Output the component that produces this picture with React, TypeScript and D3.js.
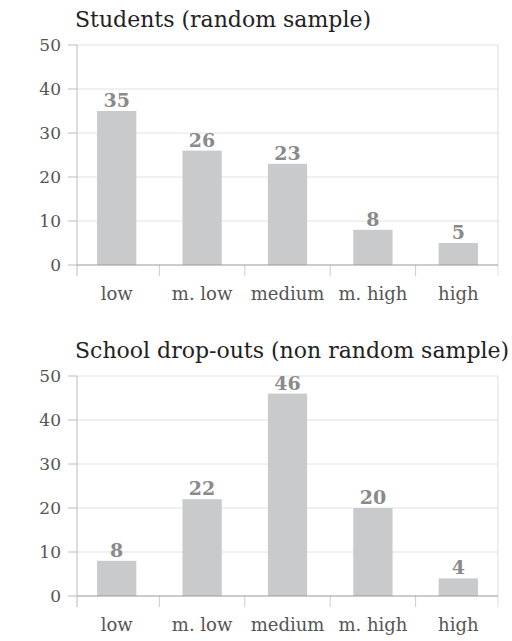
import React from 'react';
import * as d3 from 'd3';

const categories = ['low', 'm. low', 'medium', 'm. high', 'high'];
const studentsValues = [35, 26, 23, 8, 5];
const dropoutValues = [8, 22, 46, 20, 4];
const yTicks = [0, 10, 20, 30, 40, 50];

const W = 512;
const H = 641;
const FONT = '"DejaVu Serif", serif';
const M = { left: 77, right: 498, top: 45, bottom: 265 };
const PANEL_GAP = 331;

interface PanelProps {
  title: string;
  values: number[];
  offsetY: number;
}

const Panel: React.FC<PanelProps> = ({ title, values, offsetY }) => {
  const x = d3.scaleBand<string>().domain(categories).range([M.left - 3, M.right + 3]).paddingInner(0.54).paddingOuter(0.27);
  const y = d3.scaleLinear().domain([0, 50]).range([M.bottom, M.top]);
  const step = x.step();
  const bounds = categories.map(c => (x(c) ?? 0) - (step * x.paddingInner()) / 2);
  return (
    <g transform={`translate(0,${offsetY})`}>
      <text x={75} y={27} fontFamily={FONT} fontSize={22} fill="#222">{title}</text>
      {yTicks.map(t => (
        <g key={t}>
          {t > 0 && <line x1={M.left} x2={M.right} y1={y(t)} y2={y(t)} stroke="#e2e2e2" strokeWidth={1} />}
          <line x1={M.left - 9} x2={M.left} y1={y(t)} y2={y(t)} stroke="#bbb" strokeWidth={1} />
          <text x={61} y={y(t)} dy="0.36em" textAnchor="end" fontFamily={FONT} fontSize={17} fill="#555" fontWeight={300}>{t}</text>
        </g>
      ))}
      <line x1={M.left} x2={M.left} y1={M.top} y2={M.bottom + 11} stroke="#bbb" />
      <line x1={M.right} x2={M.right} y1={M.top} y2={M.bottom + 11} stroke="#ddd" />
      {bounds.slice(1).map((b, i) => (
        <line key={i} x1={b} x2={b} y1={M.bottom} y2={M.bottom + 11} stroke="#ccc" />
      ))}
      {categories.map((c, i) => (
        <g key={c}>
          <rect x={x(c)} y={y(values[i])} width={x.bandwidth()} height={y(0) - y(values[i])} fill="#c9cacc" />
          <text x={(x(c) ?? 0) + x.bandwidth() / 2} y={y(values[i]) - 4} textAnchor="middle" fontFamily={FONT} fontSize={19} fontWeight="bold" fill="#8a8a8a">{values[i]}</text>
          <text x={(x(c) ?? 0) + x.bandwidth() / 2} y={300} textAnchor="middle" fontFamily={FONT} fontSize={18} fill="#555">{c}</text>
        </g>
      ))}
      <line x1={M.left} x2={M.right} y1={M.bottom} y2={M.bottom} stroke="#999" />
    </g>
  );
};

export default function App() {
  return (
    <svg width={W} height={H} style={{ position: 'absolute', left: 0, top: 0, background: '#fff' }}>
      <Panel title="Students (random sample)" values={studentsValues} offsetY={0} />
      <Panel title="School drop-outs (non random sample)" values={dropoutValues} offsetY={PANEL_GAP} />
    </svg>
  );
}
